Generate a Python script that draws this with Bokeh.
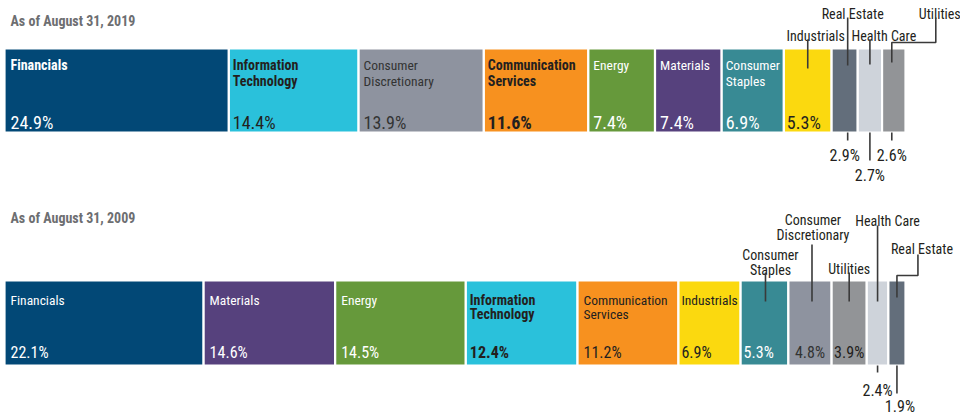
from bokeh.plotting import figure
from bokeh.models import Range1d
from bokeh.core.properties import value
from bokeh.embed import file_html
from bokeh.resources import INLINE

# ---------------- data ----------------
title_2019 = "As of August 31, 2019"
title_2009 = "As of August 31, 2009"

sectors_2019 = ["Financials", "Information Technology", "Consumer Discretionary",
                "Communication Services", "Energy", "Materials", "Consumer Staples",
                "Industrials", "Real Estate", "Health Care", "Utilities"]
weights_2019 = [24.9, 14.4, 13.9, 11.6, 7.4, 7.4, 6.9, 5.3, 2.9, 2.7, 2.6]

sectors_2009 = ["Financials", "Materials", "Energy", "Information Technology",
                "Communication Services", "Industrials", "Consumer Staples",
                "Consumer Discretionary", "Utilities", "Health Care", "Real Estate"]
weights_2009 = [22.1, 14.6, 14.5, 12.4, 11.2, 6.9, 5.3, 4.8, 3.9, 2.4, 1.9]

# ---------------- styles ----------------
FONT = "'Roboto Condensed', Roboto, sans-serif"
DARK = "#231F20"
LINE = "#3a3a3a"

colors = {
    "Financials": "#024876",
    "Information Technology": "#2AC1DB",
    "Consumer Discretionary": "#8E939F",
    "Communication Services": "#F7911F",
    "Energy": "#66993B",
    "Materials": "#56417D",
    "Consumer Staples": "#388A94",
    "Industrials": "#FBD90F",
    "Real Estate": "#636E7B",
    "Health Care": "#CED3DA",
    "Utilities": "#929497",
}
text_colors = {
    "Financials": "white", "Information Technology": DARK,
    "Consumer Discretionary": "#333333", "Communication Services": DARK,
    "Energy": "white", "Materials": "white", "Consumer Staples": "white",
    "Industrials": DARK, "Real Estate": DARK, "Health Care": DARK, "Utilities": DARK,
}
display = {
    "Information Technology": "Information\nTechnology",
    "Consumer Discretionary": "Consumer\nDiscretionary",
    "Communication Services": "Communication\nServices",
    "Consumer Staples": "Consumer\nStaples",
}

W, H = 960, 415
X0 = 4.0                 # pixel where 0 % sits
PXU = 901.0 / 100.0      # pixels per percent

p = figure(width=W, height=H, output_backend="svg", toolbar_location=None,
           x_range=Range1d(-X0 / PXU, (W - X0) / PXU), y_range=Range1d(H, 0),
           min_border=0, outline_line_color=None)
p.axis.visible = False
p.grid.visible = False
p.background_fill_color = "white"
p.border_fill_color = "white"


def txt(x, y, s, size, color, bold=False, align="left", xo=0, lh=15):
    for i, line in enumerate(s.split("\n")):
        p.text(x=[x], y=[y + i * lh], text=[line], text_font=value(FONT),
               text_font_size=size, text_font_style="bold" if bold else "normal",
               text_color=color, text_align=align, text_baseline="alphabetic",
               x_offset=xo)


def row(sectors, weights, title, cfg):
    txt(0, cfg["title_y"], title, "14px", "#6D6E71", bold=True, xo=6)
    lefts, rights = [], []
    acc = 0.0
    for w in weights:
        lefts.append(acc)
        acc += w
        rights.append(acc)
    p.quad(left=lefts, right=rights, bottom=[cfg["bot"]] * len(weights),
           top=[cfg["top"]] * len(weights),
           fill_color=[colors[s] for s in sectors], line_color="white", line_width=2.2)
    for s, w, l, r in zip(sectors, weights, lefts, rights):
        c = (l + r) / 2
        st = cfg["style"].get(s, {})
        mode = st.get("mode", "in")
        tc = text_colors[s]
        vtxt = f"{w:.1f}%"
        if mode == "in":
            nb = st.get("nb", False)
            pad = st.get("pad", cfg["pad"])
            txt(l, cfg["name_y"], display.get(s, s), "14px" if nb else "13.5px", tc,
                bold=nb, xo=pad, lh=cfg["lh"])
            txt(l, cfg["val_y"], vtxt, cfg["val_size"], tc,
                bold=st.get("vb", False), xo=pad)
        else:
            # label above the bar with a leader line
            txt(c, st["ly"], st.get("label", s), "14px", DARK,
                align="center", xo=st["lx"], lh=15)
            xs = [c + dx / PXU for dx, _ in st["line"]]
            ys = [y for _, y in st["line"]]
            p.line(xs, ys, line_color=LINE, line_width=1.6)
            if mode == "val_in":
                if st.get("valign", "left") == "center":
                    txt(c, cfg["val_y"], vtxt, cfg["val_size"], tc, align="center")
                else:
                    txt(l, cfg["val_y"], vtxt, cfg["val_size"], tc, xo=3)
            else:
                vxo = st.get("vlx", 0)
                txt(c, st["vy"], vtxt, "16px", DARK, align="center", xo=st.get("vx", 0))
                p.line([c + vxo / PXU] * 2, [cfg["bot"], st["vline"]],
                       line_color=LINE, line_width=1.6)


cfg_2019 = dict(
    title_y=20, top=48, bot=132, name_y=64, val_y=122, lh=16, pad=5,
    val_size="18px",
    style={
        "Financials": dict(nb=True, pad=6),
        "Information Technology": dict(nb=True, pad=4),
        "Communication Services": dict(nb=True, vb=True, pad=4),
        "Consumer Staples": dict(pad=4),
        "Industrials": dict(mode="val_in", lx=8, ly=35, line=[(0, 39), (0, 68)]),
        "Real Estate": dict(mode="out", lx=8, ly=13, line=[(3, 17), (3, 65)],
                            vy=155, vline=140, vlx=3),
        "Health Care": dict(mode="out", lx=14, ly=35, line=[(0, 39), (0, 64)],
                            vy=175, vline=160),
        "Utilities": dict(mode="out", lx=46, ly=13,
                          line=[(42, 17), (42, 42), (-2, 42), (-2, 62)],
                          vy=155, vline=140, vx=-2, vlx=-2),
    },
)

cfg_2009 = dict(
    title_y=217, top=280, bot=365, name_y=299, val_y=352, lh=14, pad=6,
    val_size="16px",
    style={
        "Information Technology": dict(nb=True, vb=True, pad=4),
        "Industrials": dict(pad=3),
        "Consumer Staples": dict(mode="val_in", lx=6, ly=254, label="Consumer\nStaples",
                                 line=[(1, 272), (1, 301)]),
        "Consumer Discretionary": dict(mode="val_in", lx=3, ly=219,
                                       label="Consumer\nDiscretionary",
                                       line=[(2, 244), (2, 301)], valign="center"),
        "Utilities": dict(mode="val_in", lx=0, ly=268, line=[(0, 272), (0, 301)],
                          valign="center"),
        "Health Care": dict(mode="out", lx=10, ly=220, line=[(0, 225), (0, 301)],
                            vy=390, vline=372),
        "Real Estate": dict(mode="out", lx=25, ly=248,
                            line=[(21, 254), (21, 275), (0, 275), (0, 297)],
                            vy=406, vline=393, vx=3),
    },
)

row(sectors_2019, weights_2019, title_2019, cfg_2019)
row(sectors_2009, weights_2009, title_2009, cfg_2009)

open("out.html", "w").write(file_html(p, INLINE))
